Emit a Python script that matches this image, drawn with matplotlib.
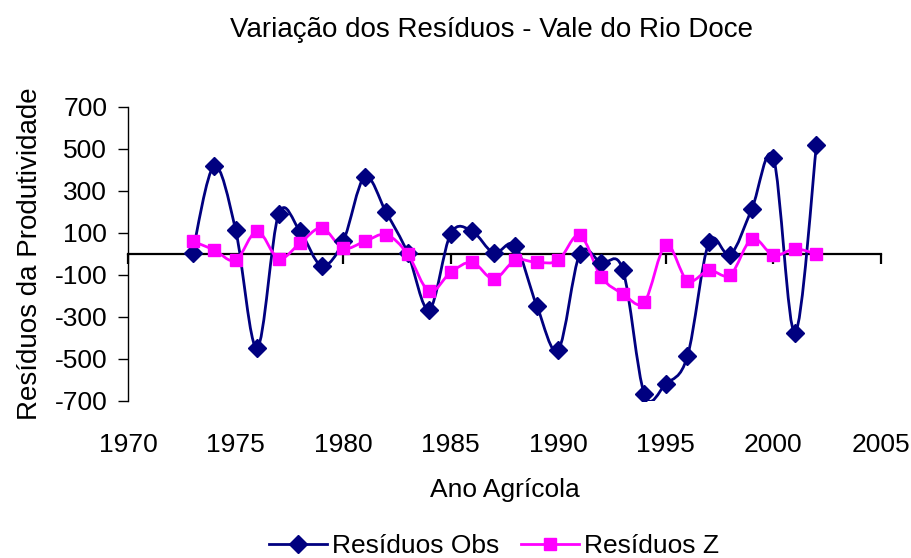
import numpy as np
import matplotlib
matplotlib.use("Agg")
import matplotlib.pyplot as plt
from matplotlib.path import Path
from matplotlib.patches import PathPatch
from matplotlib.lines import Line2D

plt.rcParams['font.family'] = ['Liberation Sans', 'DejaVu Sans']

years = list(range(1973, 2003))
residuos_obs = [5, 418, 116, -448, 189, 108, -56, 60, 367, 198,
                5, -265, 97, 108, 5, 40, -246, -456, 0, -43,
                -75, -667, -618, -488, 55, -3, 216, 457, -376, 520]
residuos_z = [60, 20, -30, 109, -22, 52, 124, 28, 60, 92,
              0, -178, -87, -40, -119, -30, -40, -30, 90, -110,
              -189, -229, 44, -127, -78, -99, 73, -6, 24, 0]

x_ticks = [1970, 1975, 1980, 1985, 1990, 1995, 2000, 2005]
y_ticks = [-700, -500, -300, -100, 100, 300, 500, 700]

title = "Variação dos Resíduos - Vale do Rio Doce"
xlabel = "Ano Agrícola"
ylabel = "Resíduos da Produtividade"
labels = ["Resíduos Obs", "Resíduos Z"]
colors = ["#000080", "#FF00FF"]

FS = 19


def smooth_path(xs, ys):
    """Excel-like smoothed line as cubic Bezier path (Catmull-Rom control points)."""
    xs = np.asarray(xs, float)
    ys = np.asarray(ys, float)
    n = len(xs)
    verts = [(xs[0], ys[0])]
    codes = [Path.MOVETO]
    for i in range(n - 1):
        p0 = np.array([xs[max(i - 1, 0)], ys[max(i - 1, 0)]])
        p1 = np.array([xs[i], ys[i]])
        p2 = np.array([xs[i + 1], ys[i + 1]])
        p3 = np.array([xs[min(i + 2, n - 1)], ys[min(i + 2, n - 1)]])
        c1 = p1 + (p2 - p0) / 6.0
        c2 = p2 - (p3 - p1) / 6.0
        verts += [tuple(c1), tuple(c2), tuple(p2)]
        codes += [Path.CURVE4] * 3
    return Path(verts, codes)


fig = plt.figure(figsize=(9.12, 5.58), dpi=100)
ax = fig.add_axes([128 / 912, 1 - 401 / 558, (881 - 128) / 912, 294 / 558])

for ys, c, m, ms in [(residuos_obs, colors[0], 'D', 9.5), (residuos_z, colors[1], 's', 8.5)]:
    ax.add_patch(PathPatch(smooth_path(years, ys), facecolor='none',
                           edgecolor=c, lw=2, zorder=3))
    ax.plot(years, ys, linestyle='none', marker=m, ms=ms, color=c, zorder=4)

ax.set_xlim(1970, 2005)
ax.set_ylim(-700, 700)

ax.spines['top'].set_visible(False)
ax.spines['right'].set_visible(False)
ax.spines['left'].set_color('black')
ax.spines['left'].set_linewidth(1.0)
ax.spines['bottom'].set_position(('data', 0))
ax.spines['bottom'].set_linewidth(1.6)
ax.spines['bottom'].set_zorder(2)

ax.set_yticks(y_ticks)
ax.set_yticklabels([str(v) for v in y_ticks], fontsize=FS)
ax.tick_params(axis='y', direction='out', length=7, width=1, pad=8)

ax.set_xticks(x_ticks)
ax.tick_params(axis='x', direction='out', length=7, width=1.6, labelbottom=False)

sec = ax.secondary_xaxis(0.0)
sec.set_xticks(x_ticks)
sec.set_xticklabels([str(v) for v in x_ticks], fontsize=FS)
sec.tick_params(axis='x', length=0, pad=23)
sec.spines['bottom'].set_visible(False)

ax.set_ylabel(ylabel, fontsize=20, labelpad=8)
fig.text(0.5 * (128 + 881) / 912 + 0.0, 1 - 490 / 558, xlabel, fontsize=FS,
         ha='center', va='center')
fig.text(492 / 912, 1 - 30 / 558, title, fontsize=20, ha='center', va='center')

handles = [Line2D([], [], color=colors[0], lw=2, marker='D', ms=9.5),
           Line2D([], [], color=colors[1], lw=2, marker='s', ms=8.5)]
fig.legend(handles, labels, loc='center', bbox_to_anchor=(494 / 912, 1 - 546 / 558),
           ncol=2, frameon=False, fontsize=FS, handlelength=2.2,
           handletextpad=0.2, columnspacing=0.8, borderaxespad=0)

fig.savefig("out.png", dpi=100)
